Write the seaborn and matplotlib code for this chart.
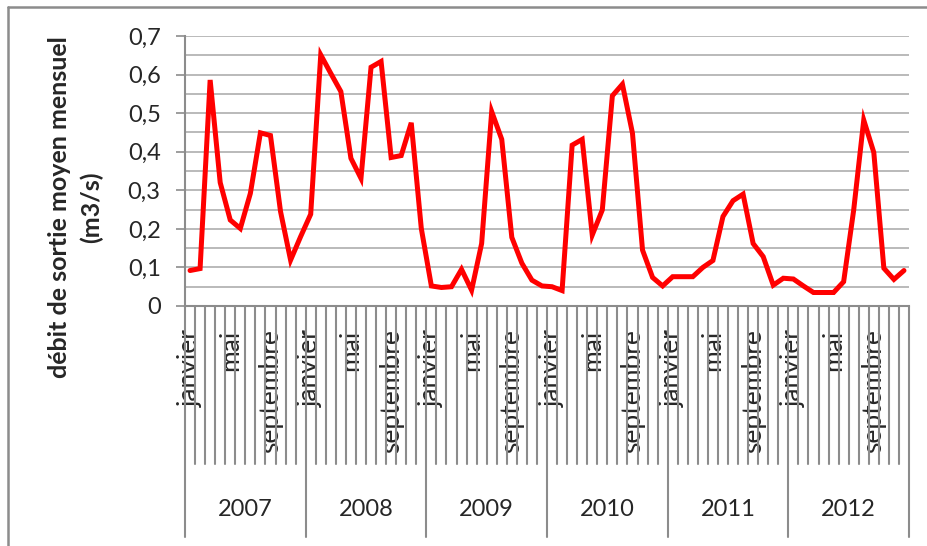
import numpy as np
import pandas as pd
import matplotlib
matplotlib.use("Agg")
import matplotlib.pyplot as plt
import matplotlib.transforms as mtransforms
from matplotlib.ticker import MultipleLocator, FuncFormatter
from matplotlib.lines import Line2D
import seaborn as sns

# Monthly mean outflow (m3/s), January 2007 .. December 2012
years = [2007, 2008, 2009, 2010, 2011, 2012]
months = ["janvier", "février", "mars", "avril", "mai", "juin", "juillet",
          "août", "septembre", "octobre", "novembre", "décembre"]
shown_months = ["janvier", "mai", "septembre"]

debit_2007 = [0.092, 0.097, 0.586, 0.320, 0.223, 0.201, 0.292, 0.449, 0.442, 0.245, 0.119, 0.180]
debit_2008 = [0.238, 0.651, 0.603, 0.556, 0.383, 0.331, 0.619, 0.634, 0.385, 0.390, 0.475, 0.201]
debit_2009 = [0.052, 0.048, 0.050, 0.095, 0.041, 0.162, 0.504, 0.432, 0.178, 0.111, 0.067, 0.052]
debit_2010 = [0.050, 0.040, 0.417, 0.432, 0.184, 0.249, 0.545, 0.575, 0.448, 0.145, 0.074, 0.052]
debit_2011 = [0.076, 0.076, 0.076, 0.100, 0.118, 0.232, 0.273, 0.290, 0.162, 0.128, 0.054, 0.072]
debit_2012 = [0.070, 0.052, 0.035, 0.035, 0.035, 0.063, 0.249, 0.482, 0.398, 0.098, 0.069, 0.092]

series = [debit_2007, debit_2008, debit_2009, debit_2010, debit_2011, debit_2012]
df = pd.DataFrame({
    "annee": np.repeat(years, 12),
    "mois": months * len(years),
    "debit": np.concatenate(series),
})
df["pos"] = np.arange(len(df))

sns.set_style("white")
plt.rcParams["font.family"] = ["Lato", "DejaVu Sans"]

W, H = 927, 546
fig = plt.figure(figsize=(W / 100, H / 100), dpi=100)
ax = fig.add_axes([185 / W, 1 - 306 / H, (909 - 185) / W, (306 - 36) / H])

sns.lineplot(data=df, x="pos", y="debit", ax=ax, color="#ff0000",
             linewidth=3.6, solid_joinstyle="miter")

grey = "#8c8c8c"
n = len(df)
ax.set_xlim(-0.5, n - 0.5)
ax.set_ylim(0, 0.7)

# y axis: labelled every 0.1, gridlines every 0.05
ax.yaxis.set_major_locator(MultipleLocator(0.1))
ax.yaxis.set_minor_locator(MultipleLocator(0.05))
ax.yaxis.set_major_formatter(FuncFormatter(lambda v, _: f"{v:.1f}".replace(".", ",") if v > 1e-9 else "0"))
ax.grid(True, axis="y", which="both", color="#b4b4b4", linewidth=1.3)
ax.set_axisbelow(True)
ax.tick_params(axis="y", which="major", direction="out", length=6.5, width=1.2,
               color=grey, labelsize=17, pad=11, left=True)
ax.tick_params(axis="y", which="minor", length=0)

# x axis: month names every four months, rotated
ax.set_xticks(df["pos"])
ax.set_xticklabels([m if m in shown_months else "" for m in df["mois"]],
                   rotation=90, va="top", ha="center")
ax.tick_params(axis="x", length=0, labelsize=19, pad=17)

for side in ["top", "right"]:
    ax.spines[side].set_visible(False)
for side in ["left", "bottom"]:
    ax.spines[side].set_color(grey)
    ax.spines[side].set_linewidth(1.5)
ax.set_xlabel("")
ax.set_ylabel("")

# category separators below the axis (short for months, long for years)
trans = mtransforms.blended_transform_factory(ax.transData, fig.transFigure)
month_bottom = 1 - 464 / H
year_bottom = 1 - 537 / H
axis_y = 1 - 306 / H
for b in np.arange(n + 1) - 0.5:
    is_year = (int(b + 0.5) % 12) == 0
    y0 = year_bottom if is_year else month_bottom
    fig.add_artist(Line2D([b, b], [y0, axis_y], transform=trans,
                          color=grey, linewidth=1.5))

for k, yr in enumerate(years):
    fig.text(12 * k + 5.5, 1 - 510 / H, str(yr), transform=trans,
             ha="center", va="center", fontsize=17)

fig.text(76 / W, 1 - 207 / H, "débit de sortie moyen mensuel\n(m3/s)",
         rotation=90, ha="center", va="center", fontsize=18,
         fontweight="bold", linespacing=1.45)

# chart frame
fig.add_artist(Line2D([8 / W, 1.0], [1 - 7 / H, 1 - 7 / H], transform=fig.transFigure,
                      color=grey, linewidth=1.8))
fig.add_artist(Line2D([8 / W, 8 / W], [0.0, 1 - 7 / H], transform=fig.transFigure,
                      color=grey, linewidth=1.8))

fig.savefig("out.png", dpi=100, facecolor="white")
